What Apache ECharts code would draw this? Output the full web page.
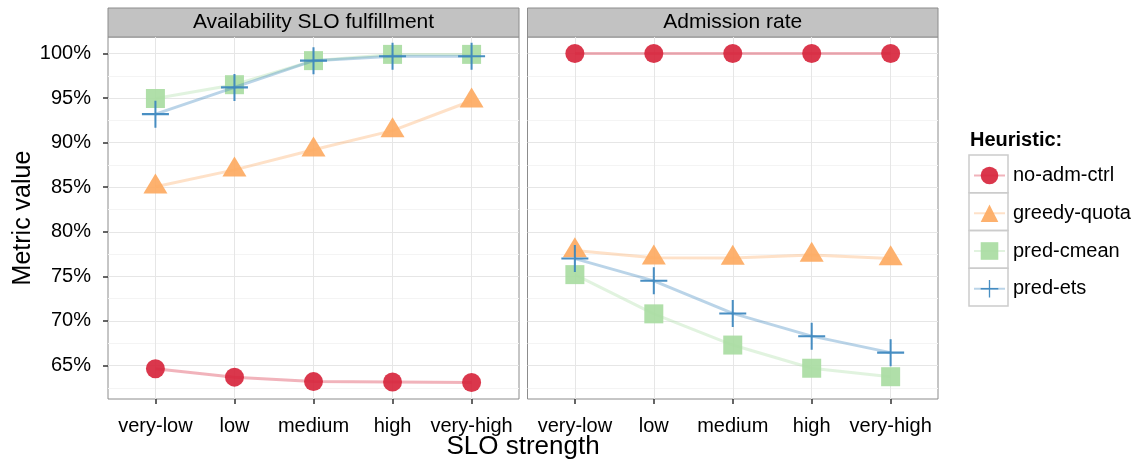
<!DOCTYPE html>
<html>
<head>
<meta charset="utf-8">
<script src="https://cdn.jsdelivr.net/npm/echarts@6/dist/echarts.min.js"></script>
<style>
  html, body { margin: 0; padding: 0; background: #fff; }
  #chart { width: 1142px; height: 461px; }
</style>
</head>
<body>
<div id="chart"></div>
<script>
// Categories and facet labels
const categories = ['very-low', 'low', 'medium', 'high', 'very-high'];
const panels = ['Availability SLO fulfillment', 'Admission rate'];
const heuristics = ['no-adm-ctrl', 'greedy-quota', 'pred-cmean', 'pred-ets'];

// Availability SLO fulfillment (%), per SLO strength
const availNoAdm  = [64.65, 63.7, 63.2, 63.15, 63.1];
const availGreedy = [85.05, 86.95, 89.2, 91.35, 94.7];
const availCmean  = [94.95, 96.5, 99.2, 99.9, 99.9];
const availEts    = [93.2, 96.2, 99.2, 99.7, 99.7];

// Admission rate (%), per SLO strength
const admitNoAdm  = [100, 100, 100, 100, 100];
const admitGreedy = [77.9, 77.1, 77.05, 77.4, 77.0];
const admitCmean  = [75.2, 70.8, 67.3, 64.7, 63.75];
const admitEts    = [77.0, 74.5, 70.85, 68.3, 66.45];

// Y axis ticks (major labelled, minor grid only)
const yTicks = [65, 70, 75, 80, 85, 90, 95, 100];
const yMinorTicks = [62.5, 67.5, 72.5, 77.5, 82.5, 87.5, 92.5, 97.5];
const yRange = [61.25, 101.85];

const colors = {
  'no-adm-ctrl': '#D7263D',
  'greedy-quota': '#FDAA62',
  'pred-cmean': '#A9DCA2',
  'pred-ets': '#3A85BE'
};
const plusPath = 'path://M-1,-0.075 L-0.075,-0.075 L-0.075,-1 L0.075,-1 L0.075,-0.075 L1,-0.075 L1,0.075 L0.075,0.075 L0.075,1 L-0.075,1 L-0.075,0.075 L-1,0.075 Z';
const symbols = {
  'no-adm-ctrl': { symbol: 'circle', size: 19, offset: [0, 0] },
  'greedy-quota': { symbol: 'triangle', size: [24, 20], offset: [0, -3.3] },
  'pred-cmean': { symbol: 'rect', size: 19, offset: [0, 0] },
  'pred-ets': { symbol: plusPath, size: 27, offset: [0, 0] }
};
const panelData = [
  [availNoAdm, availGreedy, availCmean, availEts],
  [admitNoAdm, admitGreedy, admitCmean, admitEts]
];

const font = 'Liberation Sans, Arial, Helvetica, sans-serif';
const gridBoxes = [
  { left: 108, top: 37, width: 411, height: 362 },
  { left: 527.5, top: 37, width: 410.5, height: 362 }
];
const catIdx = categories.map((c, i) => i);

const xAxes = [], yAxes = [], series = [], graphics = [];
gridBoxes.forEach((g, p) => {
  xAxes.push({
    type: 'value', gridIndex: p, min: -0.6, max: 4.6,
    axisLine: { show: false },
    axisTick: { show: true, length: 5, customValues: catIdx, lineStyle: { color: '#333', width: 1.5 } },
    axisLabel: { customValues: catIdx, formatter: v => categories[Math.round(v)], color: '#000', fontSize: 20, fontFamily: font, margin: 17 },
    splitLine: { show: true, lineStyle: { color: '#E6E6E6', width: 1 } }
  });
  // minor horizontal grid
  yAxes.push({
    type: 'value', gridIndex: p, min: yRange[0], max: yRange[1], position: 'left',
    axisLine: { show: false },
    axisTick: { show: false, customValues: yMinorTicks },
    axisLabel: { show: false, customValues: yMinorTicks },
    splitLine: { show: true, lineStyle: { color: '#F4F4F4', width: 1 } }
  });
  // major horizontal grid + labels
  yAxes.push({
    type: 'value', gridIndex: p, min: yRange[0], max: yRange[1], position: 'left',
    axisLine: { show: false },
    axisTick: { show: p === 0, length: 5, customValues: yTicks, lineStyle: { color: '#333', width: 1.5 } },
    axisLabel: { show: p === 0, customValues: yTicks, formatter: v => v + '%', color: '#000', fontSize: 20, fontFamily: font, margin: 17 },
    splitLine: { show: true, lineStyle: { color: '#E6E6E6', width: 1 } },
    name: p === 0 ? 'Metric value' : '',
    nameLocation: 'middle', nameGap: 70, nameRotate: 90,
    nameTextStyle: { fontSize: 25, fontFamily: font, color: '#000' }
  });
  heuristics.forEach((h, k) => {
    const s = symbols[h];
    series.push({
      type: 'line', name: h, xAxisIndex: p, yAxisIndex: p * 2 + 1,
      data: panelData[p][k].map((v, i) => [catIdx[i], v]),
      symbol: s.symbol, symbolSize: s.size, symbolOffset: s.offset,
      showSymbol: true, smooth: false,
      lineStyle: { color: colors[h], width: 3, opacity: 0.35 },
      itemStyle: { color: colors[h], opacity: 0.92 },
      emphasis: { disabled: true },
      animation: false, z: 2 + k
    });
  });
  // facet strip
  graphics.push({
    type: 'rect', shape: { x: g.left, y: 8, width: g.width, height: 29 },
    style: { fill: '#C2C2C2', stroke: '#8C8C8C', lineWidth: 1 }
  });
  graphics.push({
    type: 'text', x: g.left + g.width / 2, y: 22.5,
    style: { text: panels[p], fill: '#000', fontSize: 21, fontFamily: font, align: 'center', verticalAlign: 'middle' }
  });
});

// shared x-axis title
graphics.push({
  type: 'text', x: 523, y: 447,
  style: { text: 'SLO strength', fill: '#000', fontSize: 26, fontFamily: font, align: 'center', verticalAlign: 'middle' }
});
// legend title and key boxes
graphics.push({
  type: 'text', x: 970, y: 140,
  style: { text: 'Heuristic:', fill: '#000', fontSize: 20, fontWeight: 'bold', fontFamily: font, align: 'left', verticalAlign: 'middle' }
});
const keyH = 37.75;
heuristics.forEach((h, i) => {
  graphics.push({
    type: 'rect', shape: { x: 969, y: 155 + i * keyH, width: 39, height: keyH },
    style: { fill: 'none', stroke: '#CCCCCC', lineWidth: 1.5 }
  });
});

const chart = echarts.init(document.getElementById('chart'), null, { renderer: 'canvas' });
chart.setOption({
  animation: false,
  backgroundColor: '#fff',
  grid: gridBoxes.map(g => Object.assign({ show: true, borderColor: '#8C8C8C', borderWidth: 1, backgroundColor: 'transparent', containLabel: false }, g)),
  xAxis: xAxes,
  yAxis: yAxes,
  legend: {
    data: heuristics,
    orient: 'vertical', left: 973, top: 164.5, padding: 0,
    itemWidth: 31, itemHeight: 22, itemGap: keyH - 22,
    textStyle: { fontSize: 20, fontFamily: font, color: '#000', lineHeight: 22, padding: [0, 0, 0, 3] },
    selectedMode: false
  },
  graphic: graphics,
  series: series
});
</script>
</body>
</html>
